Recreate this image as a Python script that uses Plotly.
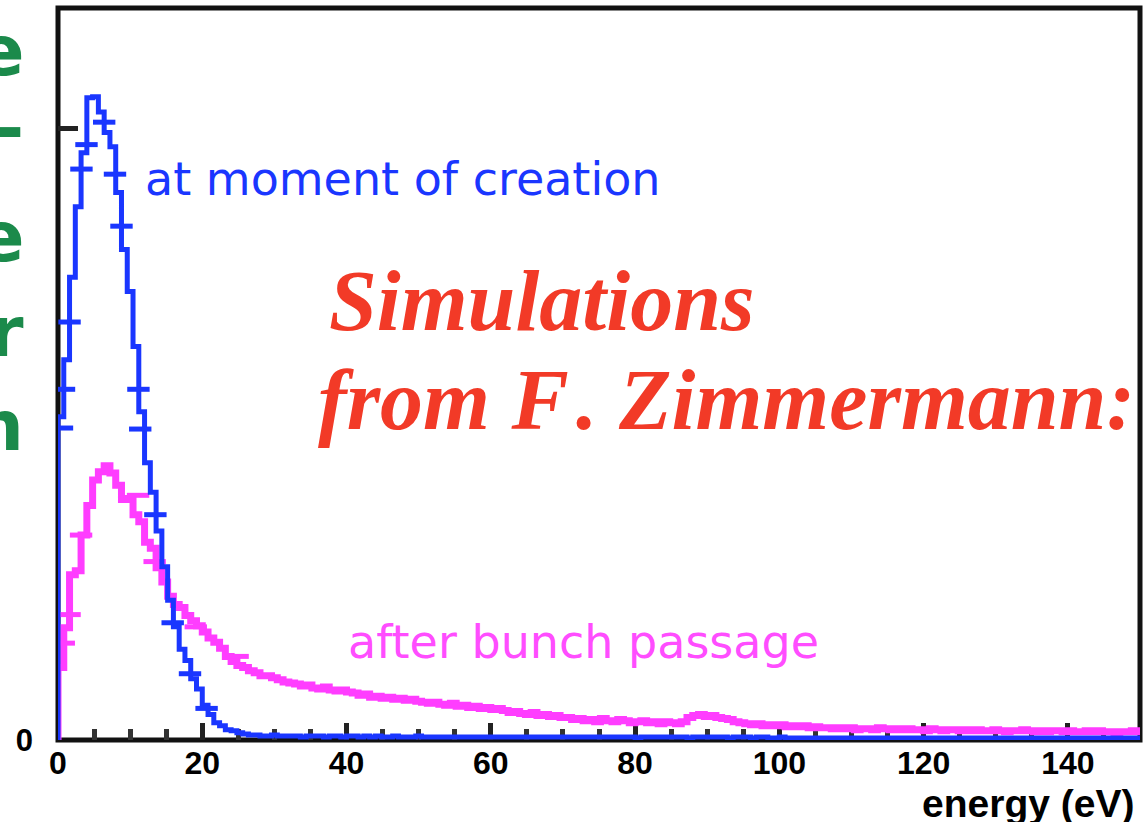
import plotly.graph_objects as go

# ---------------- data ----------------
BIN_WIDTH = 0.8  # eV per histogram bin

# electron counts per bin, "at moment of creation"
blue_counts = [
    317, 373, 454, 523, 576, 630, 631, 616, 596, 582,
    537, 481, 440, 386, 322, 272, 243, 205, 170, 137,
    111, 89, 78, 60, 50, 34, 25, 17, 14, 10,
    9, 7, 6, 5,
    5, 4, 4, 5, 4, 4, 4, 4, 3, 4,
    4, 4, 3, 4, 4, 3, 4, 4, 3, 4,
    3, 4, 3, 3, 4, 3, 3, 3, 4, 3,
    3, 3, 3, 3, 3, 3, 3, 3, 3, 3,
    3, 3, 3, 3, 3, 3, 3, 3, 3, 3,
    3, 3, 3, 3, 3, 3, 3, 3, 3, 3,
    3, 3, 3, 3, 3, 3, 2, 3, 3, 3,
    3, 3, 3, 3, 3, 2, 3, 3, 3, 3,
    3, 3, 2, 3, 3, 3, 2, 3, 3, 2,
    2, 3, 2, 2, 2, 2, 2, 2, 2, 2,
    2, 2, 2, 2, 2, 2, 2, 2, 2, 2,
    2, 2, 2, 2, 2, 2, 2, 2, 2, 2,
    2, 2, 2, 2, 2, 2, 2, 2, 2, 2,
    2, 2, 2, 2, 2, 2, 2, 2, 2, 2,
    2, 2, 2, 2, 2, 2, 2, 2, 2, 2,
    2, 2, 2, 2,
]

# electron counts per bin, "after bunch passage"
magenta_counts = [
    71, 110, 162, 166, 201, 230, 255, 263, 269, 262,
    250, 236, 237, 221, 214, 194, 188, 169, 155, 141,
    133, 130, 122, 117, 112, 106, 100, 96, 90, 82,
    77, 73, 71, 68, 66, 63, 63, 61, 59, 57,
    56,
    55, 53, 54, 51, 50, 52, 49, 48, 49, 47,
    46, 44, 45, 42, 43, 41, 42, 40, 41, 39, 40, 38,
    37, 36, 37, 35, 34, 36, 33, 34, 32, 33, 31, 32, 30, 31,
    29, 27, 28, 26, 25, 27, 24, 25, 23, 24, 22,
    22, 20, 21, 19, 20, 18, 21, 19, 18, 20, 19, 17, 18, 19, 17, 18, 16, 18, 17, 16, 18,
    22, 24, 25, 23, 24, 22, 21, 20, 18, 17,
    16, 15, 16, 14, 15, 14, 15, 13, 14, 13, 14, 12,
    13, 12, 12, 11, 12, 11, 12, 10, 11, 11,
    10, 12, 11, 10, 11, 10, 11, 10, 10, 9,
    11, 10, 9, 10, 10, 9, 10, 9, 10, 9,
    9, 10, 9, 8, 9, 9, 10, 9, 8, 9,
    8, 9, 9, 8, 9, 8, 8, 9, 8, 9,
    8, 8, 7, 8, 8, 9, 8,
]

# sampled error-bar points drawn as crosses
blue_err_x = [0.55, 0.83, 1.6, 3.25, 3.95, 6.4, 7.9, 8.8, 11.15, 11.4, 13.5, 15.9, 18.3, 20.6]
blue_err_y = [306, 344, 410, 560, 584, 606, 555, 504, 344, 305, 221, 115, 65, 31]
mag_err_x = [0.8, 1.6, 3.2, 11.1, 13.4, 19.1, 24.9]
mag_err_y = [95, 123, 201, 240, 175, 111, 82]

x_tick_vals = [0, 20, 40, 60, 80, 100, 120, 140]
x_tick_text = ["0", "20", "40", "60", "80", "100", "120", "140"]
y_tick_vals = [0, 600]
y_tick_text = ["0", ""]

X_RANGE = [0, 150]
Y_RANGE = [0, 718]

BLUE = "#1a36ff"
MAGENTA = "#ff3dff"
RED = "#f23a27"
GREEN = "#1b8a4b"


def step_path(counts):
    xs = [0.0]
    ys = [0]
    for i, c in enumerate(counts):
        xs.append(i * BIN_WIDTH)
        ys.append(c)
    xs.append(len(counts) * BIN_WIDTH)
    ys.append(counts[-1])
    return xs, ys


# ---------------- layout helpers ----------------
W, H = 1148, 822
PL, PR, PT, PB = 58, 1140, 8, 740


def fx(px):
    return (px - PL) / (PR - PL)


def fy(py):
    return (PB - py) / (PB - PT)


fig = go.Figure()

mx, my = step_path(magenta_counts)
bx, by = step_path(blue_counts)

fig.add_trace(go.Scatter(x=mx, y=my, mode="lines", line=dict(color=MAGENTA, width=7, shape="hv"),
                         hoverinfo="skip", showlegend=False))
fig.add_trace(go.Scatter(x=mag_err_x, y=mag_err_y, mode="markers",
                         marker=dict(symbol="line-ew", size=16, line=dict(color=MAGENTA, width=5)),
                         hoverinfo="skip", showlegend=False))
fig.add_trace(go.Scatter(x=bx, y=by, mode="lines", line=dict(color=BLUE, width=5, shape="hv"),
                         hoverinfo="skip", showlegend=False))
fig.add_trace(go.Scatter(x=blue_err_x, y=blue_err_y, mode="markers",
                         marker=dict(symbol="line-ew", size=16, line=dict(color=BLUE, width=5)),
                         hoverinfo="skip", showlegend=False))

SANS = "Liberation Sans, Arial, sans-serif"

annotations = []


def ann(text, px, py, size, color, family, xanchor="left", weight="normal", style="normal"):
    annotations.append(dict(
        text=text, xref="paper", yref="paper", x=fx(px), y=fy(py),
        xanchor=xanchor, yanchor="middle", showarrow=False,
        font=dict(size=size, color=color, family=family, weight=weight, style=style),
    ))


ann("Simulations", 327, 301, 86, RED, "Liberation Serif", weight="bold", style="italic")
ann("from F\u200a. Zimmermann:", 316, 400, 86, RED, "Liberation Serif", weight="bold", style="italic")
ann("at moment of creation", 143, 179, 46, BLUE, "DejaVu Sans")
ann("after bunch passage", 346, 642, 46, "#ff4dff", "DejaVu Sans")
ann("energy (eV)", 1136, 803, 39, "#000000", SANS, xanchor="right", weight="bold")

for letter, py in [("e", 51), ("-", 128), ("e", 237), ("r", 332), ("n", 426)]:
    ann(letter, 26, py, 70, GREEN, "DejaVu Sans", xanchor="right", weight="bold")

fig.update_layout(
    width=W, height=H,
    margin=dict(l=PL, r=W - PR, t=PT, b=H - PB, pad=0),
    paper_bgcolor="white", plot_bgcolor="white",
    showlegend=False,
    annotations=annotations,
    shapes=[dict(type="rect", xref="paper", yref="paper", x0=0, x1=1, y0=0, y1=1,
                 line=dict(color="#111111", width=5), layer="below")],
    xaxis=dict(range=X_RANGE, showgrid=False, zeroline=False, showline=False,
               tickmode="array", tickvals=x_tick_vals, ticktext=x_tick_text,
               ticks="inside", ticklen=17, tickwidth=5, tickcolor="#222222",
               minor=dict(dtick=5, tick0=0, ticks="inside", ticklen=11, tickwidth=5,
                          tickcolor="#333333", showgrid=False),
               tickfont=dict(family=SANS, size=32, color="#000000", weight="bold"),
               ticklabelstandoff=1,
               layer="below traces"),
    yaxis=dict(range=Y_RANGE, showgrid=False, zeroline=False, showline=False,
               tickmode="array", tickvals=y_tick_vals, ticktext=y_tick_text,
               ticks="inside", ticklen=20, tickwidth=5, tickcolor="#222222",
               tickfont=dict(family=SANS, size=31, color="#000000", weight="bold"),
               ticklabelstandoff=24,
               layer="below traces"),
)

fig.write_html("out.html")
